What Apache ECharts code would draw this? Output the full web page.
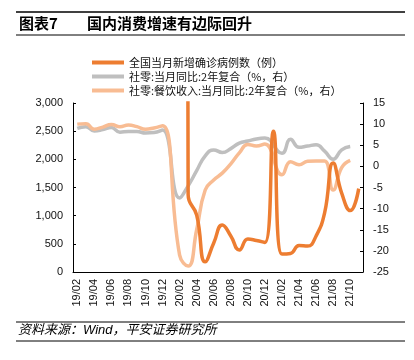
<!DOCTYPE html>
<html>
<head>
<meta charset="utf-8">
<script src="https://cdn.jsdelivr.net/npm/echarts@6/dist/echarts.min.js"></script>
<style>html,body{margin:0;padding:0;background:#fff;}#c{width:414px;height:360px;}</style>
</head>
<body>
<div id="c"></div>
<script>
const months = ['19/02','19/03','19/04','19/05','19/06','19/07','19/08','19/09','19/10','19/11','19/12',
  '20/01','20/02','20/03','20/04','20/05','20/06','20/07','20/08','20/09','20/10','20/11','20/12',
  '21/01','21/02','21/03','21/04','21/05','21/06','21/07','21/08','21/09','21/10','21/11'];
const newCases = [null,null,null,null,null,null,null,null,null,null,null,
  11791,68033,1370,1010,180,515,834,640,390,585,560,525,
  2500,320,330,470,460,640,1050,1935,1400,1090,1480];
const retailYoY2y = [9.0,9.4,8.4,8.7,9.2,8.1,8.25,8.25,7.9,8.0,8.6,
  null,-7.5,-4.6,-1.0,2.5,3.9,3.3,4.2,5.5,6.0,6.5,6.7,
  null,3.1,6.4,4.5,4.8,5.1,3.6,1.7,3.9,4.7,null];
const cateringYoY2y = [10.0,10.1,8.8,9.3,9.9,9.4,9.8,9.4,8.8,9.1,9.6,
  null,-21.0,-23.6,-15.0,-5.6,-3.2,-1.6,0.6,3.2,5.2,4.8,5.3,
  null,-2.0,1.1,0.4,1.2,1.3,1.3,-5.6,-0.3,1.4,null];
const leftTicks = {min:0, max:3000, interval:500};
const rightTicks = {min:-25, max:15, interval:5};
const names = ['全国当月新增确诊病例数（例）','社零:当月同比:2年复合（%，右）','社零:餐饮收入:当月同比:2年复合（%，右）'];

const FONT = '"Liberation Sans", Arial, "Noto Sans CJK SC", sans-serif';
const chart = echarts.init(document.getElementById('c'), null, {renderer:'canvas'});
const axisCommon = {
  axisLine:{show:true, lineStyle:{color:'#000', width:1}},
  axisTick:{show:true, inside:true, length:3, lineStyle:{color:'#000'}},
  splitLine:{show:false},
  axisLabel:{color:'#111', fontSize:11, fontFamily:FONT}
};
chart.setOption({
  animation:false,
  backgroundColor:'#fff',
  textStyle:{fontFamily:FONT},
  graphic:[
    {type:'line', shape:{x1:16,y1:12,x2:405,y2:12}, style:{stroke:'#000', lineWidth:1.5}},
    {type:'line', shape:{x1:16,y1:35,x2:405,y2:35}, style:{stroke:'#000', lineWidth:1}},
    {type:'text', left:19, top:16, style:{text:'图表7', font:'bold 15px "Noto Sans CJK SC"', fill:'#000'}},
    {type:'text', left:87, top:16, style:{text:'国内消费增速有边际回升', font:'bold 15px "Noto Sans CJK SC"', fill:'#000'}},
    {type:'line', shape:{x1:16,y1:322,x2:405,y2:322}, style:{stroke:'#000', lineWidth:1}},
    {type:'line', shape:{x1:16,y1:341,x2:405,y2:341}, style:{stroke:'#000', lineWidth:1}},
    {type:'text', left:18, top:324, style:{text:'资料来源：Wind，平安证券研究所', font:'italic 13px "Liberation Sans", "Noto Sans CJK SC"', fill:'#000'}}
  ],
  legend:{
    orient:'vertical', left:87, top:52, itemWidth:32, itemHeight:4, itemGap:3,
    icon:'rect',
    textStyle:{fontSize:11, color:'#111', fontFamily:'"Noto Sans CJK SC", sans-serif'},
    data:names
  },
  grid:{left:73, right:51, top:103, bottom:88},
  xAxis:{
    type:'category', data:months, boundaryGap:true,
    axisLine:{lineStyle:{color:'#000'}},
    axisTick:{inside:true, length:3, interval:1, lineStyle:{color:'#000'}},
    axisLabel:{rotate:90, interval:1, fontSize:11, color:'#111', fontFamily:FONT, margin:7}
  },
  yAxis:[
    Object.assign({}, axisCommon, {type:'value', position:'left', min:leftTicks.min, max:leftTicks.max, interval:leftTicks.interval,
      axisLabel:Object.assign({}, axisCommon.axisLabel, {margin:10, formatter:v=>v.toLocaleString('en-US')})}),
    Object.assign({}, axisCommon, {type:'value', position:'right', min:rightTicks.min, max:rightTicks.max, interval:rightTicks.interval,
      axisLabel:Object.assign({}, axisCommon.axisLabel, {margin:10})})
  ],
  series:[
    {name:names[1], type:'line', yAxisIndex:1, data:retailYoY2y, smooth:0.5, showSymbol:false, connectNulls:true,
      lineStyle:{color:'#BFBFBF', width:3.5}, itemStyle:{color:'#BFBFBF'}, z:2},
    {name:names[2], type:'line', yAxisIndex:1, data:cateringYoY2y, smooth:0.5, showSymbol:false, connectNulls:true,
      lineStyle:{color:'#F8BC93', width:3.5}, itemStyle:{color:'#F8BC93'}, z:3},
    {name:names[0], type:'line', yAxisIndex:0, data:newCases, smooth:0.5, showSymbol:false, connectNulls:false, clip:true,
      lineStyle:{color:'#ED7D31', width:3.5}, itemStyle:{color:'#ED7D31'}, z:4}
  ]
});
</script>
</body>
</html>
